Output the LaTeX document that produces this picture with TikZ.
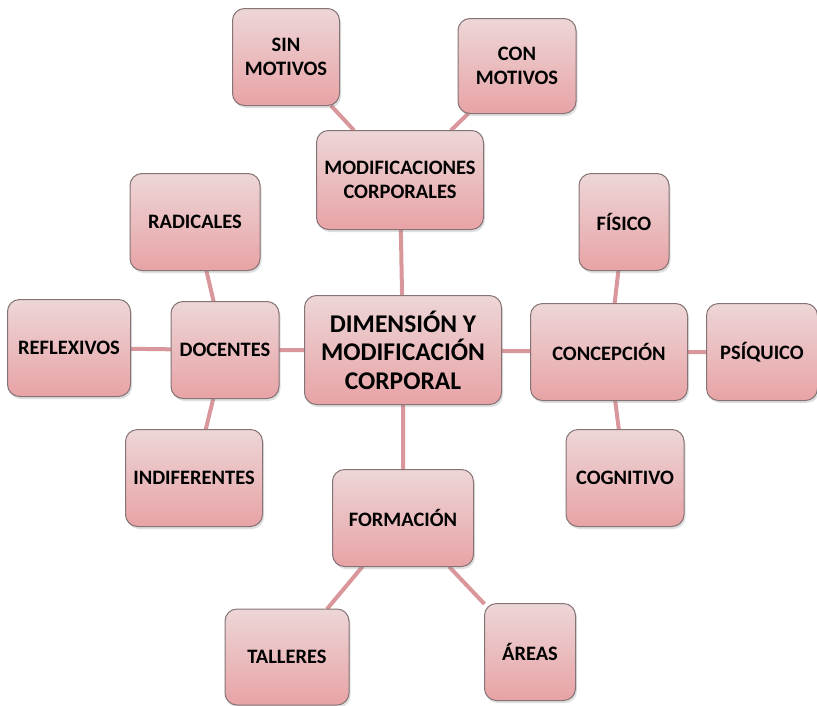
\documentclass[tikz,border=0pt]{standalone}
\usepackage{fontspec}
\setmainfont{Carlito}
\usetikzlibrary{shadows,backgrounds}
\definecolor{boxtop}{HTML}{EDD6D7}
\definecolor{boxbottom}{HTML}{E8A3A6}
\definecolor{boxline}{HTML}{857375}
\definecolor{linkcolor}{HTML}{D9979B}
\begin{document}
\begin{tikzpicture}[x=1pt,y=-1pt,
box/.style={
% The shape:
rectangle,
rounded corners=12pt,
draw=boxline,
line width=1pt,
top color=boxtop,
bottom color=boxbottom,
drop shadow={opacity=0.25,shadow xshift=1.5pt,shadow yshift=-2.5pt},
minimum height=97pt,
inner sep=2pt,
outer sep=0pt,
align=center,
font=\fontsize{20.5}{24.5}\selectfont\bfseries
},
hub/.style={
box,
minimum width=197pt,
minimum height=109pt,
font=\fontsize{25.5}{28.5}\selectfont\bfseries
},
link/.style={
draw=linkcolor,
line width=4pt
}
]
\useasboundingbox (0,0) rectangle (817,705);
% Centre:
\node (dim) [hub] at (403,350) {DIMENSIÓN Y\\MODIFICACIÓN\\CORPORAL};
% Top branch:
\node (modif) [box,minimum width=167pt,minimum height=99pt] at (400,180) {MODIFICACIONES\\CORPORALES};
\node (sin) [box,minimum width=107pt] at (286,57) {SIN\\MOTIVOS};
\node (con) [box,minimum width=118pt,minimum height=95pt] at (517,66) {CON\\MOTIVOS};
% Left branch:
\node (doc) [box,minimum width=108pt] at (225,350) {DOCENTES};
\node (rad) [box,minimum width=130pt] at (195,222) {RADICALES};
\node (refl) [box,minimum width=123pt] at (69,348) {REFLEXIVOS};
\node (indif) [box,minimum width=137pt] at (194,478) {INDIFERENTES};
% Right branch:
\node (conc) [box,minimum width=157pt] at (609,352) {CONCEPCIÓN};
\node (fis) [box,minimum width=90pt] at (624,222) {FÍSICO};
\node (psi) [box,minimum width=111pt] at (762,352) {PSÍQUICO};
\node (cog) [box,minimum width=118pt] at (625,478) {COGNITIVO};
% Bottom branch:
\node (form) [box,minimum width=141pt] at (403,518) {FORMACIÓN};
\node (tall) [box,minimum width=124pt,minimum height=96pt] at (287,657) {TALLERES};
\node (areas) [box,minimum width=91pt] at (530,652) {ÁREAS};
\begin{scope}[on background layer]
\path[link] (dim) -- (modif) (modif) -- (sin) (modif) -- (con);
\path[link] (dim) -- (doc) (doc) -- (rad) (doc) -- (refl) (doc) -- (indif);
\path[link] (dim) -- (conc) (conc) -- (fis) (conc) -- (psi) (conc) -- (cog);
\path[link] (dim) -- (form) (form) -- (tall) (form) -- (areas);
\end{scope}
\end{tikzpicture}
\end{document}
